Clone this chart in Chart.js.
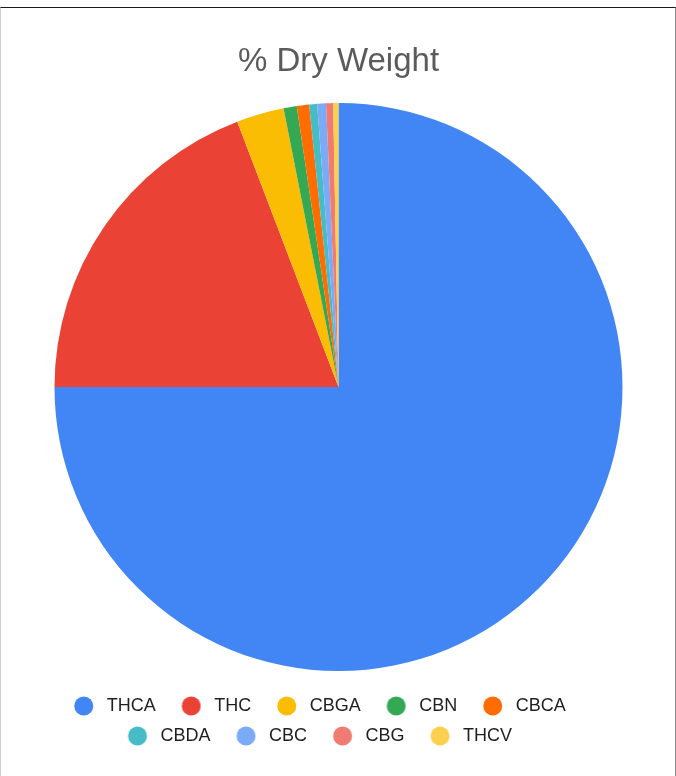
<!DOCTYPE html>
<html>
<head>
<meta charset="utf-8">
<script src="https://cdn.jsdelivr.net/npm/chart.js@4"></script>
<style>
  html, body { margin: 0; padding: 0; background: #fff; }
  #wrap { position: relative; width: 676px; height: 776px; }
  #frame {
    position: absolute; left: 0; top: 7px; width: 676px; height: 769px;
    box-sizing: border-box; pointer-events: none;
    border-top: 1px solid #1a1a1a; border-left: 1px solid #cfcfcf; border-right: 1px solid #8a8a8a;
  }
</style>
</head>
<body>
<div id="wrap">
  <canvas id="pieChart" width="676" height="776"></canvas>
  <div id="frame"></div>
</div>
<script>
const labels = ['THCA', 'THC', 'CBGA', 'CBN', 'CBCA', 'CBDA', 'CBC', 'CBG', 'THCV'];
const values = [75.0, 19.2, 2.7, 0.75, 0.7, 0.45, 0.5, 0.4, 0.3];
const colors = ['#4285F4', '#EA4335', '#FBBC04', '#34A853', '#FF6D01', '#46BDC6', '#7BAAF7', '#F07B72', '#FCD04F'];

// legend dots: small canvases so the dot can sit where the reference puts it
function makeDot(color) {
    const c = document.createElement('canvas');
    c.width = 30;
    c.height = 24;
    const g = c.getContext('2d');
    g.fillStyle = color;
    g.beginPath();
    g.arc(15 + 4.75, 12, 9.5, 0, Math.PI * 2);
    g.fill();
    return c;
}
const dots = colors.map(makeDot);

const ctx = document.getElementById('pieChart').getContext('2d');
new Chart(ctx, {
    type: 'pie',
    data: {
        labels: labels,
        datasets: [{
            data: values,
            backgroundColor: colors,
            borderWidth: 0
        }]
    },
    options: {
        responsive: false,
        animation: false,
        layout: {
            padding: {left: 0, right: 50, top: 0, bottom: 21}
        },
        plugins: {
            title: {
                display: true,
                text: '% Dry Weight',
                fullSize: false,
                color: '#5b5b5b',
                font: {family: '"Liberation Sans", Arial, sans-serif', size: 33, weight: 'normal'},
                padding: {top: 42, bottom: 21.4}
            },
            subtitle: {
                // empty spacer on the left, keeps the pie centred on the page
                display: true,
                position: 'left',
                text: ' ',
                font: {size: 10, lineHeight: 1},
                padding: {top: 41, bottom: 0}
            },
            legend: {
                position: 'bottom',
                title: {
                    display: true,
                    text: ' ',
                    padding: 0,
                    font: {size: 14, lineHeight: 1}
                },
                labels: {
                    usePointStyle: true,
                    pointStyleWidth: 37.5,
                    padding: 12,
                    color: '#1f1f1f',
                    font: {family: '"Liberation Sans", Arial, sans-serif', size: 18},
                    generateLabels: chart => {
                        const items = Chart.overrides.pie.plugins.legend.labels.generateLabels(chart);
                        items.forEach((item, i) => { item.pointStyle = dots[i]; });
                        return items;
                    }
                }
            },
            tooltip: {enabled: false}
        }
    }
});
</script>
</body>
</html>
